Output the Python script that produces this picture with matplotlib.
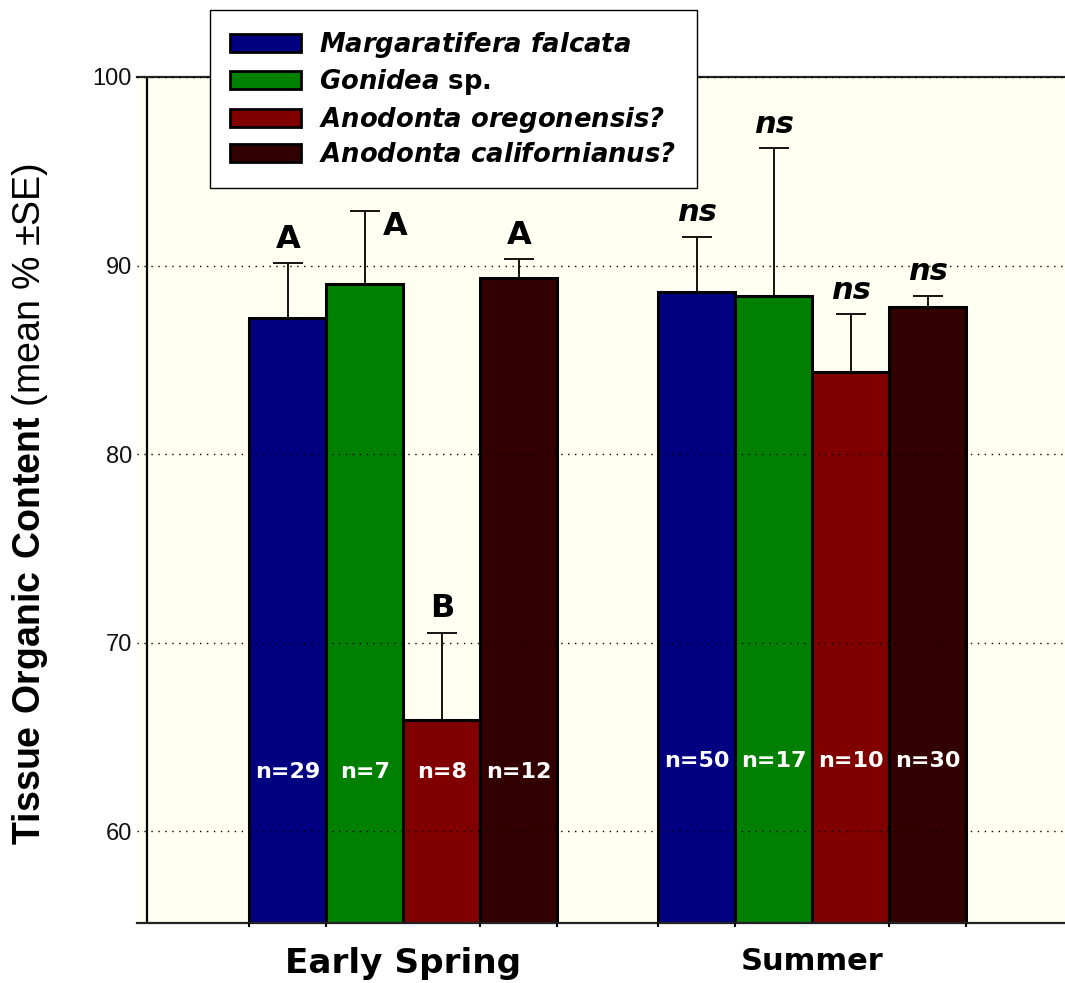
import numpy as np
import matplotlib
matplotlib.use("Agg")
import matplotlib.pyplot as plt
from matplotlib.patches import Patch

# ---------------- data ----------------
seasons = ["Early Spring", "Summer"]
species = [r"$\mathit{Margaratifera\ falcata}$",
           r"$\mathit{Gonidea}$ sp.",
           r"$\mathit{Anodonta\ oregonensis?}$",
           r"$\mathit{Anodonta\ californianus?}$"]
# mean % per species (rows) for each season (columns)
means_spring = [87.23, 89.00, 65.89, 89.35]
means_summer = [88.61, 88.40, 84.37, 87.78]
se_spring = [2.89, 3.91, 4.63, 0.98]
se_summer = [2.92, 7.82, 3.04, 0.62]
n_spring = [29, 7, 8, 12]
n_summer = [50, 17, 10, 30]
letters_spring = ["A", "A", "B", "A"]
letters_summer = ["ns", "ns", "ns", "ns"]
yticks = [60, 70, 80, 90, 100]

# ---------------- style ----------------
colors = ["#000080", "#008000", "#800000", "#330000"]
bg = "#FFFFF2"
plt.rcParams["mathtext.fontset"] = "custom"
plt.rcParams["mathtext.it"] = "DejaVu Sans:italic:bold"
plt.rcParams["mathtext.rm"] = "DejaVu Sans:italic:bold"
plt.rcParams["mathtext.bf"] = "Liberation Sans:bold"

W, H = 1065, 983
fig = plt.figure(figsize=(W / 100, H / 100), dpi=100)
ax = fig.add_axes([137 / W, 1 - 923 / H, (W - 137) / W, (923 - 77) / H])
ax.set_facecolor(bg)

group_x = np.arange(len(seasons), dtype=float)
bw = 77 / 408.5
offsets = (np.arange(4) - 1.5) * bw

means = [means_spring, means_summer]
ses = [se_spring, se_summer]
ns_ = [n_spring, n_summer]
letters = [letters_spring, letters_summer]
n_label_y = [63.13, 63.71]

for i in range(4):
    xs = group_x + offsets[i]
    vals = [means[g][i] for g in range(2)]
    errs = [ses[g][i] for g in range(2)]
    ax.bar(xs, vals, width=bw, color=colors[i], edgecolor="black",
           linewidth=2.2, zorder=1)
    ax.errorbar(xs, vals, yerr=[np.zeros(2), errs], fmt="none",
                ecolor="black", elinewidth=1.3, capsize=10.5, capthick=1.3,
                zorder=3)
    for g in range(2):
        ax.text(xs[g], n_label_y[g], f"n={ns_[g][i]}", color="white",
                fontsize=16, fontweight="bold", family="DejaVu Sans",
                ha="center", va="center", zorder=4)
        lab = letters[g][i]
        top = vals[g] + errs[g]
        dx, dy = 0, 11
        if g == 0 and i == 1:
            dx, dy = 22, -17.5
        style = "italic" if lab == "ns" else "normal"
        ax.annotate(lab, (xs[g], top), xytext=(dx, dy),
                    textcoords="offset points", ha="center", va="baseline",
                    fontsize=23 if lab != "ns" else 22, fontweight="bold",
                    fontstyle=style, family="DejaVu Sans", zorder=4)

ax.set_xlim(-0.652, 1.619)
ax.set_ylim(55.12, 100)
ax.set_yticks(yticks)
ax.set_yticklabels([str(t) for t in yticks], fontsize=17,
                   family="Liberation Sans", color="#111111")
ax.tick_params(axis="y", length=0, pad=3.6)
ax.yaxis.grid(True, linestyle=(0, (1, 4)), color="black", linewidth=1.0)
ax.set_axisbelow(False)

ax.set_xticks(group_x)
ax.set_xticklabels(seasons, fontweight="bold", family="DejaVu Sans")
xl = ax.get_xticklabels()
xl[0].set_fontsize(24.7)
xl[1].set_fontsize(22)
ax.tick_params(axis="x", length=0, pad=17)
edges = np.concatenate([g + np.append(offsets - bw / 2, offsets[-1] + bw / 2)
                        for g in group_x])
ax.set_xticks(edges, minor=True)
ax.tick_params(axis="x", which="minor", length=3, width=1.5, direction="out")

for s in ["left", "right"]:
    ax.spines[s].set_visible(False)
for s in ["top", "bottom"]:
    ax.spines[s].set_color("#222222")
    ax.spines[s].set_linewidth(1.6)
ax.axvline(-0.628, color="black", linewidth=1.6, zorder=2)

handles = [Patch(facecolor=c, edgecolor="black", linewidth=2) for c in colors]
leg = fig.legend(handles, species, loc="upper left",
                 bbox_to_anchor=(210 / W, 1 - 10 / H), borderaxespad=0,
                 prop={"family": "DejaVu Sans", "weight": "bold", "size": 18.6},
                 frameon=True, fancybox=False, framealpha=1,
                 facecolor="white", edgecolor="black",
                 handlelength=2.75, handleheight=0.7, handletextpad=0.7,
                 borderpad=0.78, labelspacing=0.28)
leg.get_frame().set_linewidth(1.0)

fig.text(30 / W, 1 - 504 / H,
         r"$\mathbf{Tissue\ Organic\ Content}$ (mean % ±SE)",
         rotation=90, ha="center", va="center", fontsize=27,
         family="Liberation Sans")

fig.savefig("out.png", dpi=100, facecolor="white")
